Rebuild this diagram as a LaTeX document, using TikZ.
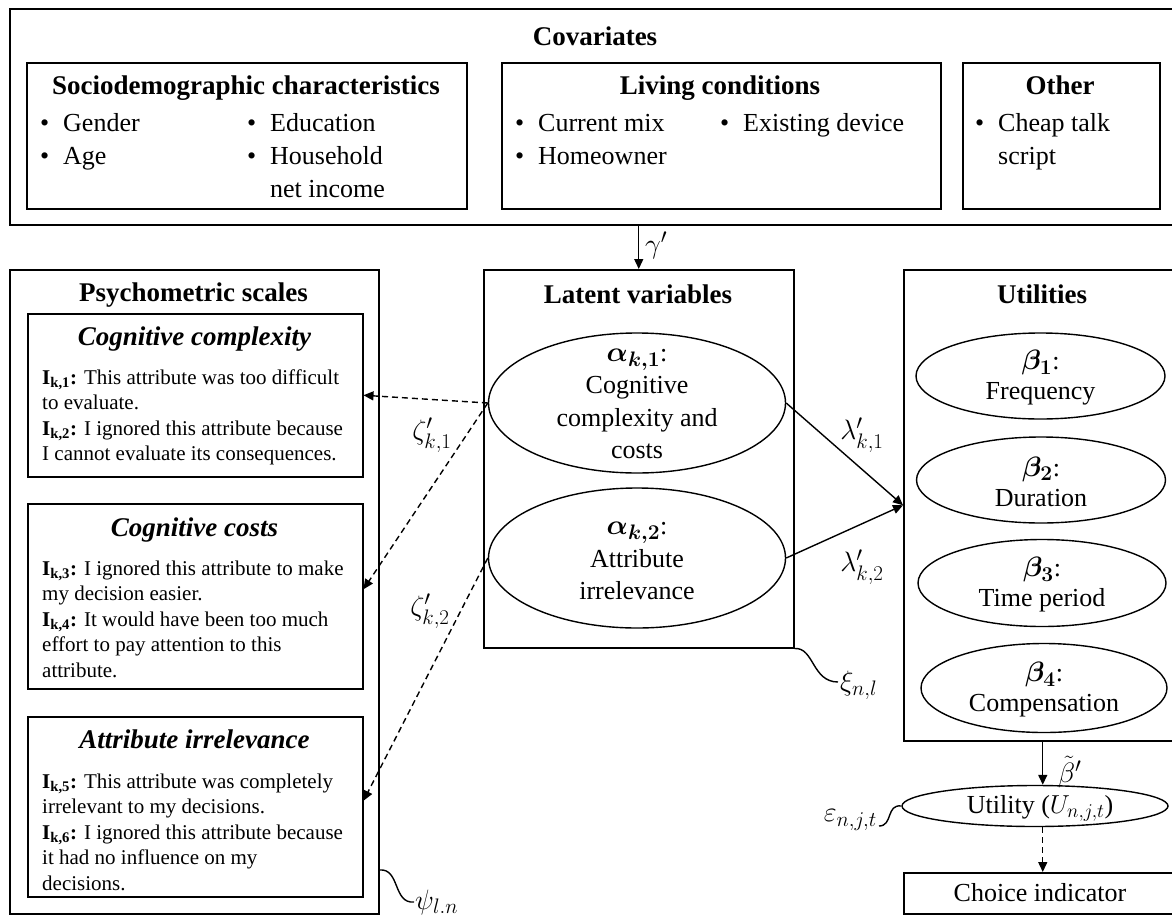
\RequirePackage{fix-cm}
\documentclass[tikz,border=0pt]{standalone}
\usepackage{amsmath}
\usepackage{bm}
\usepackage{fontspec}
\setmainfont{Liberation Serif}
\DeclareMathSizes{28}{28}{21}{16}
\DeclareMathSizes{26}{26}{19.5}{15}
\usetikzlibrary{arrows.meta,shapes.geometric}
\newcommand\Ik[1]{\textbf{I\textsubscript{k,#1}:}}
\newcommand\bul[1]{\makebox[23pt][l]{\textbullet}#1}
\newcommand\largemath[1]{{\fontsize{28}{32}\selectfont$#1$}}
\begin{document}
\begin{tikzpicture}[x=1pt,y=-1pt,
  box/.style={draw, line width=1.5pt, rectangle, anchor=north west, inner sep=0pt},
  ell/.style={draw, line width=1.4pt, ellipse, inner sep=0pt},
  ttl/.style={font=\fontsize{27}{32}\selectfont\bfseries, anchor=base, inner sep=0pt},
  ittl/.style={font=\fontsize{27}{32}\selectfont\bfseries\itshape, anchor=base, inner sep=0pt},
  txt/.style={font=\fontsize{26}{32}\selectfont, inner sep=0pt},
  mlbl/.style={font=\fontsize{28}{34}\selectfont, inner sep=0pt},
  btxt/.style={txt, anchor=base west},
  itm/.style={font=\fontsize{21}{25.6}\selectfont, anchor=base west, inner sep=0pt},
  etxt/.style={font=\fontsize{26}{32.5}\selectfont, align=center, inner sep=0pt},
  arr/.style={-{Triangle[length=10pt,width=9pt]}, line width=1.4pt},
  darr/.style={arr, dash pattern=on 6pt off 4pt},
  sq/.style={line width=1.4pt}]
\useasboundingbox (0,0) rectangle (1172,918);

% ---------- Covariates ----------
\node[box, minimum width=1172pt, minimum height=216pt] (cov) at (9,8) {};
\node[ttl] (covt) at (595,45) {Covariates};

\node[box, minimum width=440pt, minimum height=146pt] (socio) at (26,62) {};
\node[ttl] (sociot) at (246,94) {Sociodemographic characteristics};
\node[btxt] (s1) at (40,131) {\bul{Gender}};
\node[btxt] (s2) at (40,164) {\bul{Age}};
\node[btxt] (s3) at (247,131) {\bul{Education}};
\node[btxt] (s4) at (247,164) {\bul{Household}};
\node[btxt] (s5) at (270,197) {net income};

\node[box, minimum width=439pt, minimum height=146pt] (living) at (501,62) {};
\node[ttl] (livingt) at (720,94) {Living conditions};
\node[btxt] (l1) at (515,131) {\bul{Current mix}};
\node[btxt] (l2) at (515,164) {\bul{Homeowner}};
\node[btxt] (l3) at (720,131) {\bul{Existing device}};

\node[box, minimum width=197pt, minimum height=146pt] (other) at (962,62) {};
\node[ttl] (othert) at (1060,94) {Other};
\node[btxt] (o1) at (975,131) {\bul{Cheap talk}};
\node[btxt] (o2) at (998,164) {script};

% ---------- Psychometric scales ----------
\node[box, minimum width=369pt, minimum height=644pt] (psych) at (9,269) {};
\node[ttl] (psycht) at (193.5,301) {Psychometric scales};

\node[box, minimum width=335pt, minimum height=163pt] (cc) at (27,313) {};
\node[ittl] (cct) at (194.5,345) {Cognitive complexity};
\foreach \t [count=\i from 0] in {{\Ik{1} This attribute was too difficult},{to evaluate.},{\Ik{2} I ignored this attribute because},{I cannot evaluate its consequences.}}
  \node[itm] (cc-\i) at (42,384+25.6*\i) {\t};

\node[box, minimum width=335pt, minimum height=185pt] (cost) at (27,503) {};
\node[ittl] (costt) at (194.5,536) {Cognitive costs};
\foreach \t [count=\i from 0] in {{\Ik{3} I ignored this attribute to make},{my decision easier.},{\Ik{4} It would have been too much},{effort to pay attention to this},{attribute.}}
  \node[itm] (cost-\i) at (42,575+25.6*\i) {\t};

\node[box, minimum width=335pt, minimum height=180pt] (irr) at (27,716) {};
\node[ittl] (irrt) at (194.5,748) {Attribute irrelevance};
\foreach \t [count=\i from 0] in {{\Ik{5} This attribute was completely},{irrelevant to my decisions.},{\Ik{6} I ignored this attribute because},{it had no influence on my},{decisions.}}
  \node[itm] (irr-\i) at (42,788+25.6*\i) {\t};

% ---------- Latent variables ----------
\node[box, minimum width=310pt, minimum height=378pt] (lat) at (483,269) {};
\node[ttl] (latt) at (638,303) {Latent variables};
\node[ell, minimum width=297pt, minimum height=140pt] (a1) at (637,403) {};
\node[etxt] (a1t) at (637,404) {\largemath{\bm{\alpha_{k,1}}}:\\Cognitive\\complexity and\\costs};
\node[ell, minimum width=297pt, minimum height=140pt] (a2) at (637,558) {};
\node[etxt] (a2t) at (637,561) {\largemath{\bm{\alpha_{k,2}}}:\\Attribute\\irrelevance};

% ---------- Utilities ----------
\node[box, minimum width=278pt, minimum height=471pt] (util) at (903,269) {};
\node[ttl] (utilt) at (1042,303) {Utilities};
\node[ell, minimum width=249pt, minimum height=86pt] (b1) at (1040.5,376) {};
\node[etxt, font=\fontsize{26}{30}\selectfont] (b1t) at (1040.5,378) {\largemath{\bm{\beta_1}}:\\Frequency};
\node[ell, minimum width=249pt, minimum height=86pt] (b2) at (1041,480) {};
\node[etxt, font=\fontsize{26}{30}\selectfont] (b2t) at (1041,482) {\largemath{\bm{\beta_2}}:\\Duration};
\node[ell, minimum width=248pt, minimum height=87pt] (b3) at (1042,583) {};
\node[etxt, font=\fontsize{26}{30}\selectfont] (b3t) at (1042,585) {\largemath{\bm{\beta_3}}:\\Time period};
\node[ell, minimum width=246pt, minimum height=89pt] (b4) at (1044,688) {};
\node[etxt, font=\fontsize{26}{30}\selectfont] (b4t) at (1044,690) {\largemath{\bm{\beta_4}}:\\Compensation};

\node[ell, minimum width=266pt, minimum height=41pt] (uell) at (1035,806) {};
\node[txt] (uellt) at (1040,808) {Utility ($U_{n,j,t}$)};
\node[box, minimum width=278pt, minimum height=41pt] (choice) at (903,872) {};
\node[txt] (choicet) at (1040,893) {Choice indicator};

% ---------- Connectors ----------
\draw[arr] (lat.north |- cov.south) -- (lat.north);
\node[mlbl, anchor=west] (gam) at (645,245) {$\gamma'$};

\draw[arr] (a1.east) -- (util.west);
\draw[arr] (a2.east) -- (util.west);
\node[mlbl] (lam1) at (862,435) {$\lambda'_{k,1}$};
\node[mlbl] (lam2) at (862,567) {$\lambda'_{k,2}$};

\draw[darr] (a1.west) -- (cc.east);
\draw[darr] (a1.west) -- ([yshift=7pt]cost.east);
\draw[darr] (a2.west) -- ([yshift=6pt]irr.east);
\node[mlbl] (z1) at (432,435) {$\zeta'_{k,1}$};
\node[mlbl] (z2) at (430,611) {$\zeta'_{k,2}$};

\draw[arr] (util.south) -- (util.south |- uell.north);
\node[mlbl, anchor=west] (bt) at (1058,772) {$\tilde{\beta}'$};
\draw[darr] (util.south |- uell.south) -- (choice.north);

% ---------- error terms ----------
\coordinate (xiend) at (838,682);
\draw[sq] (lat.south east) .. controls (814,647) and (812,682) .. (xiend);
\node[mlbl, anchor=west] (xi) at (840,685) {$\xi_{n,l}$};

\coordinate (psiend) at (414,902);
\draw[sq] (psych.east |- 0,870) .. controls (400,868) and (393,904) .. (psiend);
\node[mlbl, anchor=west] (psi) at (415,902) {$\psi_{l.n}$};

\coordinate (epsend) at (879,826);
\draw[sq] (uell.west) .. controls (886,804) and (893,826) .. (epsend);
\node[mlbl, anchor=east] (eps) at (877,820) {$\varepsilon_{n,j,t}$};
\end{tikzpicture}
\end{document}
